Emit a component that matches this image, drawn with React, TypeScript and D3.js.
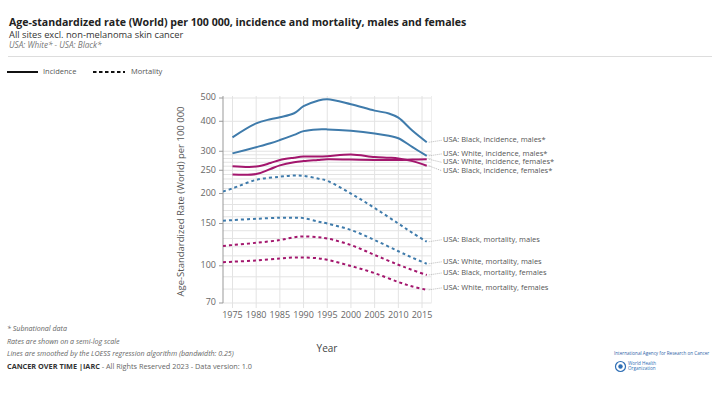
import * as d3 from "d3";

// incidence years and series
const incYears = [1975, 1980, 1983, 1985, 1988, 1990, 1993, 1995, 2000, 2005, 2008, 2010, 2013, 2016];
const blackIncMales = [343, 392, 408, 416, 432, 462, 487, 494, 471, 443, 431, 414, 365, 327];
const whiteIncMales = [294, 312, 324, 334, 351, 364, 370, 370, 365, 356, 348, 340, 312, 287];
const blackIncFemales = [260, 259, 268, 276, 282, 285, 285, 286, 291, 284, 282, 280, 273, 261];
const whiteIncFemales = [240, 241, 253, 262, 270, 273, 276, 278, 277, 276, 276, 276, 277, 278];

// mortality years and series (start before the visible range, clipped)
const mortYears = [1973, 1975, 1980, 1985, 1988, 1990, 1993, 1995, 2000, 2005, 2010, 2013, 2016];
const blackMortMales = [204, 210, 228, 235, 238, 237, 231, 226, 200, 174, 150, 137, 126];
const whiteMortMales = [154, 155, 157, 158.5, 158.5, 158, 153, 150, 141, 128, 115, 108, 102];
const blackMortFemales = [121, 122, 124.7, 128, 131.5, 132.5, 131.5, 130, 122, 111, 101, 96, 91.6];
const whiteMortFemales = [103.5, 104, 105.3, 107.3, 108.3, 108.3, 107.5, 106, 99.8, 93.2, 85.6, 82, 79.4];

const xTicks = [1975, 1980, 1985, 1990, 1995, 2000, 2005, 2010, 2015];
const yTicks = [70, 100, 150, 200, 250, 300, 400, 500];
const yGrid = [70, 80, 90, 100, 110, 120, 130, 140, 150, 160, 170, 180, 190, 200, 210, 220, 230, 240, 250, 260, 270, 280, 290, 300, 400, 500];

const BLUE = "#3f7bab";
const MAGENTA = "#a3166d";
const FONT = "'Open Sans', 'Noto Sans', sans-serif";

const series = [
  { name: "USA: Black, incidence, males*", years: incYears, values: blackIncMales, color: BLUE, dashed: false },
  { name: "USA: White, incidence, males*", years: incYears, values: whiteIncMales, color: BLUE, dashed: false },
  { name: "USA: White, incidence, females*", years: incYears, values: whiteIncFemales, color: MAGENTA, dashed: false },
  { name: "USA: Black, incidence, females*", years: incYears, values: blackIncFemales, color: MAGENTA, dashed: false },
  { name: "USA: Black, mortality, males", years: mortYears, values: blackMortMales, color: BLUE, dashed: true },
  { name: "USA: White, mortality, males", years: mortYears, values: whiteMortMales, color: BLUE, dashed: true },
  { name: "USA: Black, mortality, females", years: mortYears, values: blackMortFemales, color: MAGENTA, dashed: true },
  { name: "USA: White, mortality, females", years: mortYears, values: whiteMortFemales, color: MAGENTA, dashed: true },
];

const PLOT = { left: 223, right: 431.5, top: 98, bottom: 303 };

export default function App() {
  const x = d3.scaleLinear().domain([1973, 2017]).range([PLOT.left, PLOT.right]);
  const y = d3.scaleLog().domain([70, 500]).range([PLOT.bottom, PLOT.top]);

  const line = d3
    .line<[number, number]>()
    .x((d) => x(d[0]))
    .y((d) => y(d[1]))
    .curve(d3.curveCatmullRom.alpha(0.5));

  // label placement: sort by end y and push apart
  const ends = series.map((s) => {
    const n = s.years.length - 1;
    return { s, ex: x(s.years[n]), ey: y(s.values[n]) };
  });
  const sorted = [...ends].sort((a, b) => a.ey - b.ey);
  const labelY: number[] = [];
  sorted.forEach((e, i) => {
    let ly = e.ey - 2;
    if (i > 0 && ly < labelY[i - 1] + 8.5) ly = labelY[i - 1] + 8.5;
    labelY.push(ly);
  });
  const labelX = 443;

  return (
    <svg
      width={720}
      height={393}
      style={{ position: "absolute", left: 0, top: 0, background: "#fff" }}
      fontFamily={FONT}
    >
      <defs>
        <clipPath id="plotclip">
          <rect x={PLOT.left} y={PLOT.top - 5} width={PLOT.right - PLOT.left} height={PLOT.bottom - PLOT.top + 10} />
        </clipPath>
      </defs>

      {/* header */}
      <text x={9} y={25.5} fontSize={10.6} fontWeight="bold" fill="#222">
        Age-standardized rate (World) per 100 000, incidence and mortality, males and females
      </text>
      <text x={9} y={37.5} fontSize={9.3} fill="#333">
        All sites excl. non-melanoma skin cancer
      </text>
      <text x={9} y={48} fontSize={8.2} fontStyle="italic" fill="#777">
        USA: White* - USA: Black*
      </text>
      <line x1={8} x2={712} y1={56.5} y2={56.5} stroke="#ddd" />

      {/* legend */}
      <line x1={7} x2={38} y1={72} y2={72} stroke="#111" strokeWidth={2} />
      <text x={43} y={72} fontSize={7.5} fill="#555" dominantBaseline="middle">Incidence</text>
      <line x1={93} x2={125} y1={72} y2={72} stroke="#111" strokeWidth={2} strokeDasharray="3.5,2.5" />
      <text x={131} y={72} fontSize={7.5} fill="#555" dominantBaseline="middle">Mortality</text>

      {/* grid */}
      {yGrid.map((v) => (
        <line key={"gy" + v} x1={PLOT.left} x2={PLOT.right} y1={y(v)} y2={y(v)} stroke="#e3e3e3" strokeWidth={1} />
      ))}
      {xTicks.map((t) => (
        <line key={"gx" + t} x1={x(t)} x2={x(t)} y1={PLOT.top - 2} y2={PLOT.bottom + 5} stroke="#e3e3e3" />
      ))}
      <line x1={PLOT.right} x2={PLOT.right} y1={PLOT.top - 2} y2={PLOT.bottom} stroke="#eeeeee" />

      {/* y axis */}
      <line x1={PLOT.left} x2={PLOT.left} y1={PLOT.top - 2} y2={PLOT.bottom} stroke="#999" />
      {yTicks.map((v) => (
        <g key={"yt" + v}>
          <line x1={PLOT.left - 4} x2={PLOT.left} y1={y(v)} y2={y(v)} stroke="#999" />
          <text x={PLOT.left - 7} y={y(v)} fontSize={9} fill="#666" textAnchor="end" dominantBaseline="middle">
            {v}
          </text>
        </g>
      ))}
      <text
        transform={`translate(181,${(PLOT.top + PLOT.bottom) / 2 + 1}) rotate(-90)`}
        fontSize={9.5}
        fill="#555"
        textAnchor="middle"
        dominantBaseline="middle"
      >
        Age-Standardized Rate (World) per 100 000
      </text>

      {/* x axis labels */}
      {xTicks.map((t) => (
        <text key={"xt" + t} x={x(t)} y={316} fontSize={9} fill="#666" textAnchor="middle" dominantBaseline="middle">
          {t}
        </text>
      ))}
      <text x={327} y={349} fontSize={10} fill="#444" textAnchor="middle" dominantBaseline="middle">
        Year
      </text>

      {/* lines */}
      <g clipPath="url(#plotclip)">
        {series.map((s) => (
          <path
            key={s.name}
            d={line(s.years.map((yr, i) => [yr, s.values[i]] as [number, number])) ?? ""}
            fill="none"
            stroke={s.color}
            strokeWidth={2}
            strokeDasharray={s.dashed ? "3,3" : undefined}
          />
        ))}
      </g>

      {/* labels */}
      {sorted.map((e, i) => (
        <g key={"lab" + e.s.name}>
          <line
            x1={e.ex + 2}
            x2={labelX - 1}
            y1={e.ey}
            y2={labelY[i]}
            stroke="#999"
            strokeWidth={0.7}
            strokeDasharray="1,1"
          />
          <text x={labelX} y={labelY[i]} fontSize={7.5} fill="#555" dominantBaseline="middle">
            {e.s.name}
          </text>
        </g>
      ))}

      {/* footer */}
      <text x={7} y={331} fontSize={7.1} fontStyle="italic" fill="#666">* Subnational data</text>
      <text x={7} y={343.5} fontSize={7.1} fontStyle="italic" fill="#666">Rates are shown on a semi-log scale</text>
      <text x={7} y={356} fontSize={7.1} fontStyle="italic" fill="#666">
        Lines are smoothed by the LOESS regression algorithm (bandwidth: 0.25)
      </text>
      <text x={7} y={368.5} fontSize={7.3} fill="#666">
        <tspan fontWeight="bold" fill="#333">CANCER OVER TIME |IARC</tspan> - All Rights Reserved 2023 - Data version: 1.0
      </text>

      {/* logos */}
      <text x={614} y={355} fontSize={4.6} fill="#2f5fa7">International Agency for Research on Cancer</text>
      <circle cx={620.5} cy={366.5} r={5} fill="none" stroke="#2f6fb5" strokeWidth={1.2} />
      <circle cx={620.5} cy={366.5} r={2.2} fill="#2f6fb5" />
      <text x={628} y={365} fontSize={4.6} fill="#2f6fb5">World Health</text>
      <text x={628} y={370} fontSize={4.6} fill="#2f6fb5">Organization</text>
    </svg>
  );
}
